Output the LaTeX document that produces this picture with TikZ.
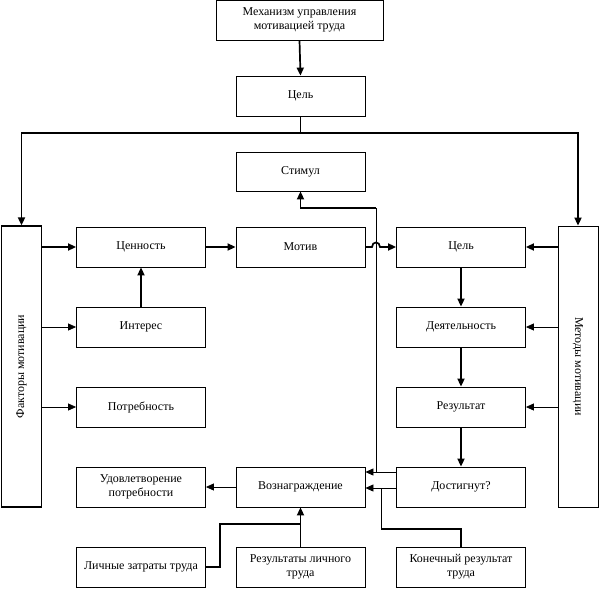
\documentclass[tikz,border=0pt]{standalone}
\usepackage{fontspec}
\setmainfont{Liberation Serif}
\usetikzlibrary{arrows.meta}
\begin{document}
\begin{tikzpicture}[x=1pt,y=-1pt,
  box/.style={draw,line width=0.8pt,inner sep=0pt,minimum width=129pt,minimum height=40pt,align=center,
    font=\fontsize{12}{14}\selectfont},
  tall/.style={draw,line width=0.8pt,inner sep=0pt,minimum width=40pt,minimum height=281pt,
    font=\fontsize{12}{14}\selectfont},
  thk/.style={line width=1.7pt,-{Triangle[length=8pt,width=7pt]}},
  thkn/.style={line width=1.7pt},
  thn/.style={line width=0.8pt,-{Triangle[length=8pt,width=7pt]}},
  thnn/.style={line width=0.8pt}]
\useasboundingbox (0,0) rectangle (599,589);
\node[box,minimum width=167pt] (top) at (299.5,20) {Механизм управления\\мотивацией труда};
\node[box] (goal1) at (300.5,96) {Цель};
\node[box,minimum height=39pt] (stim) at (300.5,171.5) {Стимул};
\node[box] (val) at (141,247) {Ценность};
\node[box] (motiv) at (300.5,247) {Мотив};
\node[box] (goal2) at (461,247) {Цель};
\node[box] (int) at (141,327) {Интерес};
\node[box] (need) at (141,407) {Потребность};
\node[box] (act) at (461,327) {Деятельность};
\node[box] (res) at (461,407) {Результат};
\node[box] (sat) at (141,487) {Удовлетворение\\потребности};
\node[box] (rew) at (300.5,487) {Вознаграждение};
\node[box] (ach) at (461,487) {Достигнут?};
\node[box] (pers) at (141,567) {Личные затраты труда};
\node[box] (resp) at (300.5,567) {Результаты личного\\труда};
\node[box] (fin) at (461,567) {Конечный результат\\труда};
\node[tall,line width=1.2pt] (fact) at (21.5,366.5) {};
\node[rotate=90,font=\fontsize{12}{14}\selectfont] (factt) at (fact.center) {Факторы мотивации};
\node[tall] (meth) at (578,366.5) {};
\node[rotate=-90,font=\fontsize{12}{14}\selectfont] (metht) at (meth.center) {Методы мотивации};
% top
\draw[thk] (top.south) -- (goal1.north);
\coordinate (split) at (300.5,133);
\draw[thkn] (goal1.south) -- (split);
\draw[thk] (split) -| (fact.north);
\draw[thk] (split) -| (meth.north);
% left
\draw[thk] (fact.east |- val.west) -- (val.west);
\draw[thn] (fact.east |- int.west) -- (int.west);
\draw[thn] (fact.east |- need.west) -- (need.west);
\draw[thk] (int.north) -- (val.south);
\draw[thk] (val.east) -- (motiv.west);
\draw[thk] (motiv.east) -- (372,247) .. controls (372,241) and (380,241) .. (380,247) -- (goal2.west);
% right
\draw[thk] (meth.west |- goal2.east) -- (goal2.east);
\draw[thn] (meth.west |- act.east) -- (act.east);
\draw[thn] (meth.west |- res.east) -- (res.east);
\draw[thk] (goal2.south) -- (act.north);
\draw[thk] (act.south) -- (res.north);
\draw[thk] (res.south) -- (ach.north);
% bottom
\draw[thn] (rew.west) -- (sat.east);
\coordinate (j1) at (376,472);
\coordinate (s1) at (376,208);
\draw[thn] (ach.west |- j1) -- (rew.east |- j1);
\draw[thnn] (j1) -- (s1);
\draw[thk] (s1) -- (stim.south |- s1) -- (stim.south);
\coordinate (j2) at (381,488);
\coordinate (f1) at (381,529);
\draw[thn] (ach.west |- j2) -- (rew.east |- j2);
\draw[thkn] (fin.north) |- (f1);
\draw[thnn] (f1) -- (j2);
\coordinate (p1) at (220,524);
\draw[thkn] (pers.east) -| (p1) -- (rew.south |- p1);
\draw[thk] (resp.north) -- (rew.south);
\end{tikzpicture}
\end{document}
